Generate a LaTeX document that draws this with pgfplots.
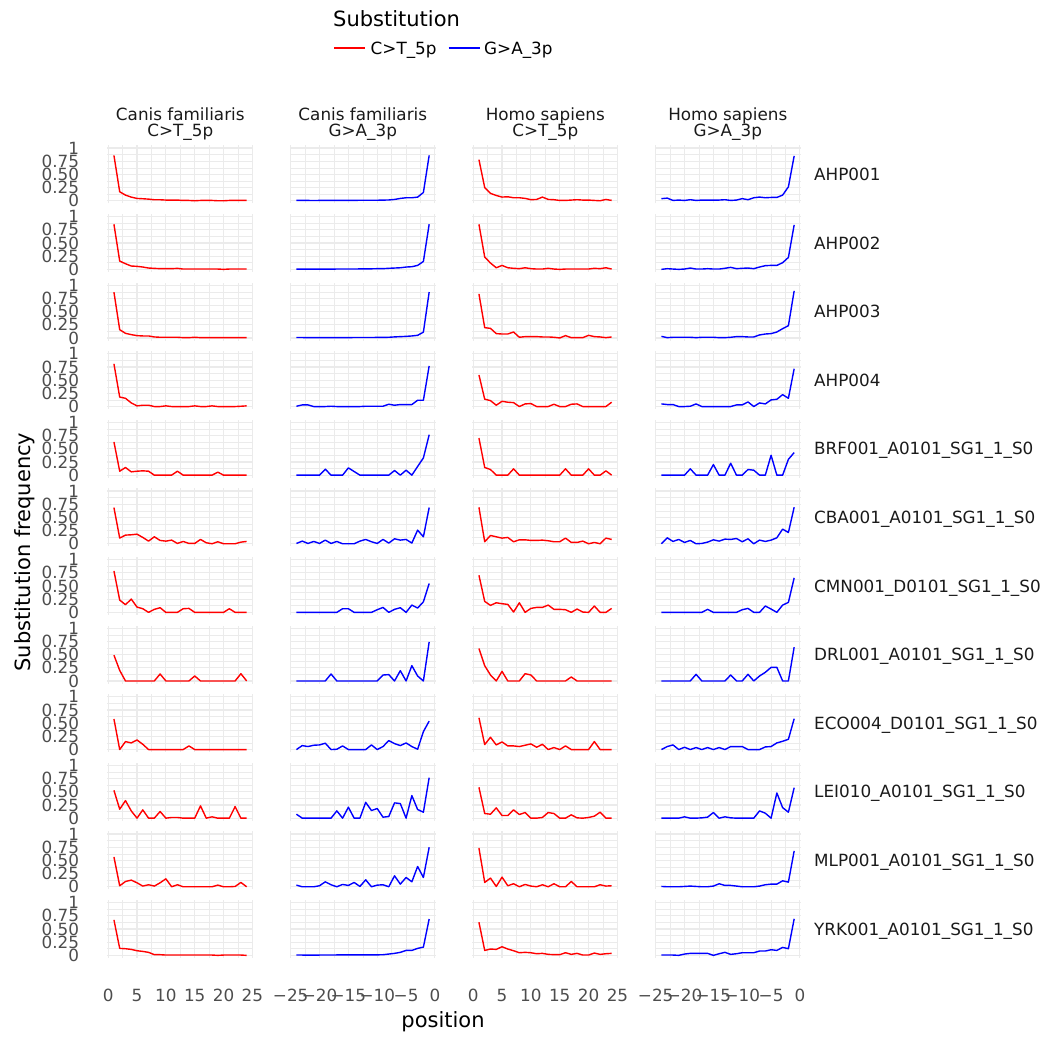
\documentclass[border=0pt]{standalone}
\usepackage{fontspec}
\setmainfont{DejaVu Sans}
\usepackage{pgfplots}
\usepackage{pgfplotstable}
\pgfplotsset{compat=1.18}
\definecolor{GridGrey}{HTML}{EBEBEB}
\definecolor{TickGrey}{HTML}{4D4D4D}
\definecolor{StripInk}{HTML}{1A1A1A}
\newcommand\smallfont{\fontsize{16.8}{18}\selectfont}
\newcommand\bigfont{\fontsize{21}{24}\selectfont}

% one line per sample (facet row), one column per position
\pgfplotstableread{
s 1 2 3 4 5 6 7 8 9 10 11 12 13 14 15 16 17 18 19 20 21 22 23 24
r1 0.86 0.17 0.107 0.069 0.044 0.038 0.031 0.019 0.019 0.013 0.013 0.013 0.006 0.006 0 0.006 0.006 0.006 0 0 0.006 0.006 0.006 0.006
r2 0.855 0.157 0.107 0.063 0.057 0.044 0.025 0.019 0.013 0.013 0.013 0.019 0.006 0.006 0.006 0.006 0.006 0.006 0.006 0 0.006 0.006 0.006 0.006
r3 0.868 0.157 0.088 0.063 0.044 0.038 0.038 0.019 0.013 0.013 0.013 0.013 0.006 0.006 0.013 0.006 0.006 0.006 0.006 0.006 0.006 0.006 0.006 0.006
r4 0.81 0.18 0.157 0.069 0.013 0.025 0.025 0 0 0.013 0 0 0 0 0.013 0 0 0.013 0 0 0 0 0.006 0.013
r5 0.63 0.075 0.145 0.063 0.075 0.082 0.075 0 0 0 0 0.075 0 0 0 0 0 0 0.057 0 0 0 0 0
r6 0.686 0.107 0.164 0.17 0.182 0.12 0.05 0.132 0.063 0.05 0.069 0.006 0.044 0.006 0.006 0.082 0.019 0 0.038 0 0 0 0.031 0.044
r7 0.786 0.233 0.145 0.252 0.1 0.069 0 0.057 0.088 0 0 0 0.069 0.075 0 0 0 0 0 0 0.069 0 0 0
r8 0.49 0.2 0 0 0 0 0 0 0.132 0 0 0 0 0 0.094 0 0 0 0 0 0 0 0.138 0
r9 0.58 0 0.151 0.126 0.182 0.1 0 0 0 0 0 0 0 0.069 0 0 0 0 0 0 0 0 0 0
r10 0.528 0.17 0.333 0.138 0 0.157 0 0 0.126 0 0.013 0.013 0 0 0 0.233 0 0.025 0 0 0 0.22 0 0
r11 0.566 0.019 0.1 0.126 0.075 0.013 0.038 0.013 0.075 0.151 0 0.038 0 0 0 0 0 0 0.031 0 0 0.006 0.082 0
r12 0.673 0.132 0.126 0.113 0.088 0.075 0.057 0.013 0.013 0.006 0.006 0.006 0.006 0.006 0.006 0.006 0.006 0.006 0 0.006 0.006 0.006 0.006 0
}\rawCanisCT

\pgfplotstableread{
s -24 -23 -22 -21 -20 -19 -18 -17 -16 -15 -14 -13 -12 -11 -10 -9 -8 -7 -6 -5 -4 -3 -2 -1
r1 0.008 0.006 0.006 0.005 0.006 0.006 0.006 0.007 0.007 0.008 0.008 0.009 0.009 0.01 0.01 0.012 0.015 0.025 0.044 0.057 0.057 0.069 0.157 0.86
r2 0.004 0.004 0.004 0.005 0.005 0.005 0.005 0.006 0.006 0.006 0.007 0.008 0.008 0.01 0.013 0.013 0.02 0.025 0.03 0.044 0.05 0.075 0.15 0.855
r3 0.008 0.008 0.006 0.006 0.006 0.006 0.006 0.006 0.007 0.007 0.008 0.008 0.009 0.009 0.01 0.01 0.013 0.02 0.025 0.03 0.038 0.05 0.11 0.87
r4 0.006 0.031 0.031 0 0 0 0.006 0 0 0 0 0 0.006 0.006 0.006 0.006 0.044 0.025 0.038 0.038 0.038 0.12 0.12 0.77
r5 0 0 0 0 0 0.113 0 0 0 0.138 0.069 0 0 0 0 0 0 0.088 0 0.094 0 0.164 0.327 0.767
r6 0.006 0.05 0.006 0.044 0.006 0.069 0.006 0.044 0 0 0 0.05 0.082 0.038 0.006 0.082 0.013 0.094 0.069 0.082 0.013 0.258 0.132 0.686
r7 0 0 0 0 0 0 0 0 0.069 0.069 0 0 0 0 0.05 0.094 0 0.057 0.088 0 0.138 0.082 0.2 0.547
r8 0 0 0 0 0 0 0.132 0 0 0 0 0 0 0 0 0.113 0.12 0 0.195 0 0.29 0.094 0 0.74
r9 0 0.075 0.057 0.082 0.088 0.12 0 0.006 0.069 0 0 0 0 0.088 0 0.057 0.17 0.113 0.075 0.126 0.057 0.006 0.34 0.54
r10 0.075 0 0 0 0 0 0 0.138 0 0.208 0 0 0.3 0.145 0.182 0.019 0.031 0.29 0.277 0 0.428 0.164 0.113 0.767
r11 0.031 0 0 0 0.019 0.094 0.038 0 0.044 0.025 0.082 0.006 0.132 0 0.031 0.038 0 0.208 0.05 0.176 0.094 0.384 0.176 0.748
r12 0.006 0.006 0.005 0.005 0.006 0.006 0.006 0.008 0.008 0.008 0.008 0.01 0.01 0.008 0.01 0.012 0.025 0.038 0.057 0.094 0.094 0.132 0.157 0.69
}\rawCanisGA

\pgfplotstableread{
s 1 2 3 4 5 6 7 8 9 10 11 12 13 14 15 16 17 18 19 20 21 22 23 24
r1 0.78 0.25 0.14 0.1 0.07 0.075 0.057 0.057 0.045 0.02 0.025 0.07 0.025 0.02 0.006 0.006 0.013 0.02 0.013 0.013 0.006 0 0.025 0.006
r2 0.855 0.233 0.12 0.03 0.075 0.03 0.02 0.013 0.03 0.013 0.006 0.006 0.02 0.006 0 0.006 0.006 0.006 0.006 0.006 0.02 0.013 0.03 0.006
r3 0.836 0.195 0.182 0.082 0.075 0.075 0.113 0.013 0.025 0.025 0.025 0.019 0.019 0.013 0 0.044 0.006 0.006 0.006 0.05 0.025 0.019 0.006 0.019
r4 0.6 0.14 0.113 0.025 0.1 0.082 0.075 0 0.05 0.057 0 0 0 0.044 0 0 0.044 0.05 0 0 0 0 0 0.082
r5 0.704 0.145 0.107 0 0 0 0.12 0 0 0 0 0 0 0 0 0.12 0 0 0 0.12 0 0 0.082 0
r6 0.692 0.038 0.157 0.132 0.107 0.12 0.038 0.075 0.075 0.063 0.063 0.069 0.057 0.038 0.038 0.107 0.025 0.025 0.05 0 0.025 0 0.107 0.082
r7 0.704 0.208 0.132 0.182 0.164 0.151 0.006 0.182 0 0.075 0.094 0.094 0.138 0.057 0.057 0.05 0 0.063 0.006 0 0.12 0 0 0.075
r8 0.616 0.289 0.113 0 0.182 0 0 0 0.138 0.113 0 0 0 0 0 0 0.075 0 0 0 0 0 0 0
r9 0.604 0.094 0.233 0.088 0.145 0.069 0.069 0.057 0.082 0.107 0.044 0.1 0 0.038 0 0.069 0 0 0 0 0.151 0 0 0
r10 0.585 0.088 0.075 0.195 0.05 0.05 0.157 0.069 0.107 0 0 0.013 0.107 0.088 0 0 0.063 0.006 0 0.013 0.038 0.113 0 0
r11 0.736 0.082 0.164 0.006 0.182 0.019 0.057 0 0.044 0.013 0 0.038 0 0.057 0 0 0.1 0 0 0 0 0.038 0.013 0.019
r12 0.629 0.094 0.12 0.113 0.164 0.12 0.088 0.05 0.057 0.05 0.031 0.038 0.019 0.013 0.013 0.05 0.019 0.038 0.006 0.006 0.044 0.019 0.031 0.038
}\rawHomoCT

\pgfplotstableread{
s -24 -23 -22 -21 -20 -19 -18 -17 -16 -15 -14 -13 -12 -11 -10 -9 -8 -7 -6 -5 -4 -3 -2 -1
r1 0.04 0.05 0.006 0.013 0.006 0.02 0.006 0.013 0.013 0.013 0.013 0.02 0.006 0.013 0.04 0.02 0.057 0.07 0.057 0.063 0.063 0.107 0.264 0.85
r2 0 0.013 0.006 0 0.006 0.025 0.006 0.006 0.013 0.006 0.006 0.02 0.038 0.013 0.02 0.025 0.013 0.044 0.07 0.075 0.075 0.126 0.226 0.843
r3 0.03 0.006 0.013 0.013 0.013 0.013 0.006 0.013 0.013 0.013 0.006 0.006 0.013 0.025 0.025 0.019 0.019 0.057 0.075 0.082 0.113 0.176 0.233 0.893
r4 0.05 0.038 0.038 0 0 0.006 0.05 0 0 0 0 0 0 0.031 0.031 0.088 0 0.069 0.05 0.126 0.138 0.226 0.157 0.717
r5 0 0 0 0 0 0.12 0 0 0 0.2 0 0 0.226 0 0 0.107 0.094 0 0 0.377 0 0 0.3 0.428
r6 0 0.113 0.044 0.082 0.025 0.063 0 0.006 0.031 0.075 0.05 0.088 0.082 0.1 0.038 0.094 0 0.069 0.044 0.069 0.113 0.277 0.214 0.692
r7 0 0 0 0 0 0 0 0 0.057 0 0 0 0 0 0.05 0.075 0 0 0.12 0.063 0 0.138 0.189 0.654
r8 0 0 0 0 0 0 0.126 0 0 0 0 0 0.113 0 0 0.126 0 0.094 0.164 0.258 0.258 0 0 0.64
r9 0 0.057 0.088 0 0.044 0 0.038 0 0.038 0 0.038 0 0.057 0.057 0.057 0 0 0 0.05 0.057 0.126 0.157 0.195 0.585
r10 0 0 0 0 0.025 0 0 0.006 0.019 0.107 0 0.025 0.006 0 0 0 0 0.138 0.094 0 0.478 0.2 0.113 0.578
r11 0.006 0 0 0 0.006 0.013 0.006 0 0 0.013 0.057 0.025 0.025 0.013 0 0 0 0.013 0.038 0.05 0.05 0.113 0.088 0.68
r12 0.006 0.006 0.006 0 0.025 0.038 0.038 0.038 0.038 0 0.031 0.057 0.019 0.031 0.05 0.05 0.05 0.082 0.082 0.107 0.094 0.151 0.126 0.692
}\rawHomoGA

% positions become rows, samples become columns r1..r12
\pgfplotstabletranspose[colnames from=s]{\CanisCT}{\rawCanisCT}
\pgfplotstabletranspose[colnames from=s]{\CanisGA}{\rawCanisGA}
\pgfplotstabletranspose[colnames from=s]{\HomoCT}{\rawHomoCT}
\pgfplotstabletranspose[colnames from=s]{\HomoGA}{\rawHomoGA}

\pgfplotsset{
  panel/.style={
    anchor=north west, scale only axis, width=146pt, height=58pt,
    ymin=-0.05, ymax=1.05,
    ytick={0,0.25,0.5,0.75,1}, minor ytick={0.125,0.375,0.625,0.875},
    xticklabel=\empty, yticklabel=\empty,
    axis line style={draw=none},
    major tick length=0pt, minor tick length=0pt,
    grid=both,
    major grid style={draw=GridGrey, line width=1.1pt},
    minor grid style={draw=GridGrey, line width=0.55pt},
    tick label style={font=\smallfont, text=TickGrey},
    yticklabel style={anchor=east, inner sep=0pt, xshift=-28pt},
    xticklabel style={anchor=center, inner sep=0pt, yshift=-37pt},
  },
  ct/.style={xmin=-0.15, xmax=25.15, xtick={0,5,...,25}, minor xtick={2.5,7.5,...,22.5}},
  ga/.style={xmin=-25.15, xmax=0.15, xtick={-25,-20,...,0}, minor xtick={-22.5,-17.5,...,-2.5}},
  ctline/.style={draw=red, line width=1.4pt, line join=round},
  galine/.style={draw=blue, line width=1.4pt, line join=round},
}

\begin{document}
\begin{tikzpicture}[x=1pt, y=1pt]
\useasboundingbox (0,0) rectangle (1049,1039);

% legend
\node[anchor=base west, inner sep=0pt, font=\bigfont] at (333,1012.3) {Substitution};
\draw[red, line width=1.4pt] (334,991) -- (365,991);
\node[anchor=base west, inner sep=0pt, font=\smallfont] at (370.5,984.9) {C>T\_5p};
\draw[blue, line width=1.4pt] (448.5,991) -- (479.5,991);
\node[anchor=base west, inner sep=0pt, font=\smallfont] at (484,984.9) {G>A\_3p};

% column strips
\foreach \cx/\sp/\ty in {180.3/Canis familiaris/C>T\_5p, 362.8/Canis familiaris/G>A\_3p,
                          545.3/Homo sapiens/C>T\_5p, 727.8/Homo sapiens/G>A\_3p}{
  \node[anchor=base, inner sep=0pt, font=\smallfont, text=StripInk] at (\cx,918) {\sp};
  \node[anchor=base, inner sep=0pt, font=\smallfont, text=StripInk] at (\cx,902.5) {\ty};
}

\foreach \lab [count=\i] in {AHP001, AHP002, AHP003, AHP004,
    BRF001\_A0101\_SG1\_1\_S0, CBA001\_A0101\_SG1\_1\_S0, CMN001\_D0101\_SG1\_1\_S0,
    DRL001\_A0101\_SG1\_1\_S0, ECO004\_D0101\_SG1\_1\_S0, LEI010\_A0101\_SG1\_1\_S0,
    MLP001\_A0101\_SG1\_1\_S0, YRK001\_A0101\_SG1\_1\_S0}{
  \pgfmathsetmacro\ytop{1039-145.4-68.6*(\i-1)}
  \pgfmathsetmacro\ylab{\ytop-29-6.1}
  \ifnum\i=12
    \pgfplotsset{ctb/.style={xticklabels={0,5,10,15,20,25}},
                 gab/.style={xticklabels={−25,−20,−15,−10,−5,0}}}
  \else
    \pgfplotsset{ctb/.style={}, gab/.style={}}
  \fi
  \begin{axis}[panel, ct, ctb, at={(107.3pt,\ytop pt)}, yticklabels={0,0.25,0.50,0.75,1}]
    \addplot[ctline] table[x=colnames, y=r\i] {\CanisCT};
  \end{axis}
  \begin{axis}[panel, ga, gab, at={(289.8pt,\ytop pt)}]
    \addplot[galine] table[x=colnames, y=r\i] {\CanisGA};
  \end{axis}
  \begin{axis}[panel, ct, ctb, at={(472.3pt,\ytop pt)}]
    \addplot[ctline] table[x=colnames, y=r\i] {\HomoCT};
  \end{axis}
  \begin{axis}[panel, ga, gab, at={(654.8pt,\ytop pt)}]
    \addplot[galine] table[x=colnames, y=r\i] {\HomoGA};
  \end{axis}
  \node[anchor=base west, inner sep=0pt, font=\smallfont, text=StripInk] at (814,\ylab) {\lab};
}

% axis titles
\node[font=\bigfont, inner sep=0pt] at (443,17) {position};
\node[font=\bigfont, inner sep=0pt, rotate=90] at (25,487) {Substitution frequency};
\end{tikzpicture}
\end{document}
